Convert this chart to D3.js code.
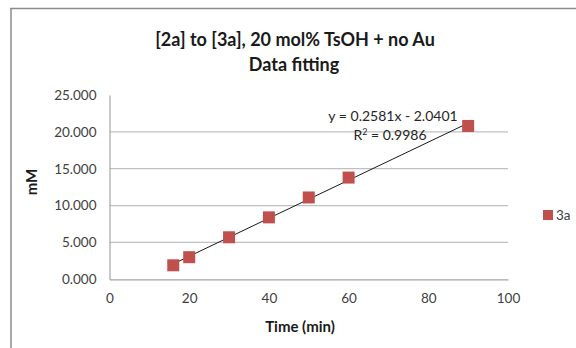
<!DOCTYPE html>
<html><head><meta charset="utf-8">
<script src="https://cdn.jsdelivr.net/npm/d3@7"></script>
<style>body{margin:0;background:#fff}svg{display:block}</style>
</head><body>
<script>
const timeMin = [16, 20, 30, 40, 50, 60, 90];
const conc3a = [1.9, 3.0, 5.7, 8.4, 11.1, 13.8, 20.8];
const seriesName = "3a";
const fitSlope = 0.2581, fitIntercept = -2.0401;
const fitLabel = "y = 0.2581x - 2.0401";
const r2Value = "0.9986";
const xTicks = [0, 20, 40, 60, 80, 100];
const yTicks = [0, 5, 10, 15, 20, 25];
const titleLines = ["[2a] to [3a], 20 mol% TsOH + no Au", "Data fitting"];

const W = 576, H = 348;
const font = "Lato, 'Open Sans', sans-serif";
const svg = d3.select("body").append("svg").attr("width", W).attr("height", H);

// outer frame (top and left visible)
svg.append("line").attr("x1", 10).attr("x2", W).attr("y1", 8.5).attr("y2", 8.5).attr("stroke", "#8c8c8c").attr("stroke-width", 1.5);
svg.append("line").attr("x1", 11).attr("x2", 11).attr("y1", 8).attr("y2", H).attr("stroke", "#8c8c8c").attr("stroke-width", 1.5);

const x = d3.scaleLinear().domain([0, 100]).range([109.5, 508]);
const y = d3.scaleLinear().domain([0, 25]).range([279.3, 95]);

// gridlines
svg.append("g").selectAll("line").data(yTicks.filter(t => t > 0 && t < 25)).join("line")
  .attr("x1", x(0)).attr("x2", x(100)).attr("y1", d => y(d)).attr("y2", d => y(d))
  .attr("stroke", "#bfbfbf").attr("stroke-width", 1.2);

// axes
const yAxis = svg.append("g").attr("transform", `translate(${x(0)},0)`)
  .call(d3.axisLeft(y).tickValues(yTicks).tickSize(0).tickPadding(13).tickFormat(d3.format(".3f")));
const xAxis = svg.append("g").attr("transform", `translate(0,${y(0)})`)
  .call(d3.axisBottom(x).tickValues(xTicks).tickSize(0).tickPadding(14));
[xAxis, yAxis].forEach(a => {
  a.select(".domain").attr("stroke", "#a6a6a6").attr("stroke-width", 1.2);
  a.selectAll("text").attr("font-family", font).attr("font-size", 13.5).attr("fill", "#404040");
});

// trendline
svg.append("line")
  .attr("x1", x(timeMin[0])).attr("y1", y(fitSlope * timeMin[0] + fitIntercept))
  .attr("x2", x(timeMin[timeMin.length - 1])).attr("y2", y(fitSlope * timeMin[timeMin.length - 1] + fitIntercept))
  .attr("stroke", "#1a1a1a").attr("stroke-width", 1);

// markers
const ms = 12;
svg.append("g").selectAll("rect").data(timeMin.map((t, i) => [t, conc3a[i]])).join("rect")
  .attr("x", d => x(d[0]) - ms / 2).attr("y", d => y(d[1]) - ms / 2)
  .attr("width", ms).attr("height", ms).attr("fill", "#C0504D");

// trendline label
svg.append("text").attr("x", 393).attr("y", 121).attr("text-anchor", "middle")
  .attr("font-family", font).attr("font-size", 14).attr("fill", "#262626").text(fitLabel);
const r2 = svg.append("text").attr("x", 390).attr("y", 140).attr("text-anchor", "middle")
  .attr("font-family", font).attr("font-size", 14).attr("fill", "#262626");
r2.append("tspan").text("R");
r2.append("tspan").attr("font-size", 9).attr("dy", -5).text("2");
r2.append("tspan").attr("dy", 5).text(" = " + r2Value);

// title
svg.append("text").attr("x", 295).attr("y", 46).attr("text-anchor", "middle")
  .attr("font-family", font).attr("font-size", 18).attr("font-weight", 700).attr("fill", "#1a1a1a").text(titleLines[0]);
svg.append("text").attr("x", 294).attr("y", 71).attr("text-anchor", "middle")
  .attr("font-family", font).attr("font-size", 18).attr("font-weight", 700).attr("fill", "#1a1a1a").text(titleLines[1]);

// axis titles
svg.append("text").attr("transform", "translate(37,182) rotate(-90)").attr("text-anchor", "middle")
  .attr("font-family", font).attr("font-size", 15).attr("font-weight", 700).attr("fill", "#1a1a1a").text("mM");
svg.append("text").attr("x", 300).attr("y", 332).attr("text-anchor", "middle")
  .attr("font-family", font).attr("font-size", 15).attr("font-weight", 700).attr("fill", "#1a1a1a").text("Time (min)");

// legend
svg.append("rect").attr("x", 543).attr("y", 210).attr("width", 10).attr("height", 10).attr("fill", "#C0504D");
svg.append("text").attr("x", 556).attr("y", 220).attr("font-family", font).attr("font-size", 13.5).attr("fill", "#404040").text(seriesName);
</script>
</body></html>
